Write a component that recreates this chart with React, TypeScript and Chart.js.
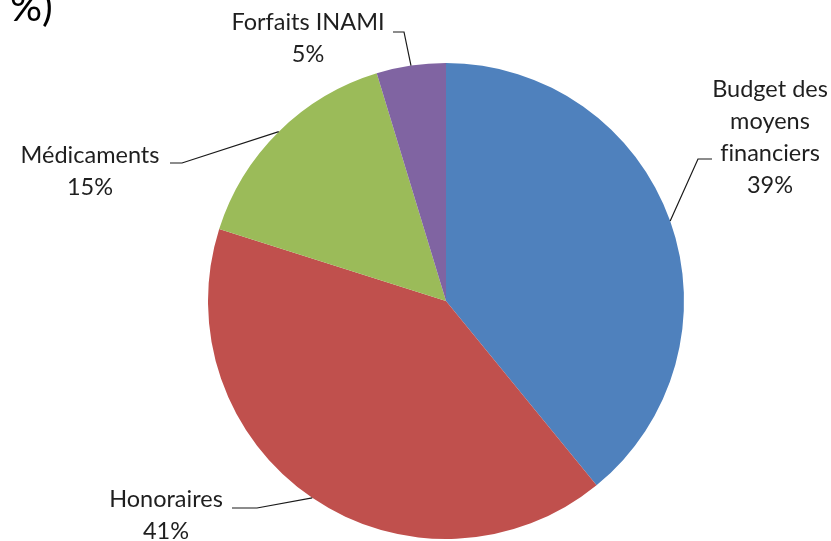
import React, { useEffect, useRef } from "react";
import { Chart, registerables } from "chart.js";

Chart.register(...registerables);

const categories = ["Budget des moyens financiers", "Honoraires", "Médicaments", "Forfaits INAMI"];
const labelLines = [["Budget des", "moyens", "f\u200Cinanciers"], ["Honoraires"], ["Médicaments"], ["Forfaits INAMI"]];
const values = [39.1, 40.8, 15.4, 4.7];
const colors = ["#4F81BD", "#C0504D", "#9BBB59", "#8064A2"];
const titleText = "%)";

// label layout: text center x, first baseline y, elbow point, horizontal end x
const labelLayout = [
  { cx: 770, by: 97, ex: 698, ey: 159, hx: 712 },
  { cx: 166, by: 507, ex: 257, ey: 508, hx: 232 },
  { cx: 90, by: 163, ex: 182, ey: 163, hx: 170 },
  { cx: 308, by: 30, ex: 404, ey: 32, hx: 393 },
];

const FONT = "Lato, 'Open Sans', sans-serif";
const TEXT_COLOR = "#1f1f1f";

const labelPlugin = {
  id: "pieLabels",
  afterDraw(chart: any) {
    const ctx = chart.ctx;
    const meta = chart.getDatasetMeta(0);
    const data = chart.data.datasets[0].data as number[];
    const total = data.reduce((a, b) => a + b, 0);
    ctx.save();
    // title fragment
    ctx.fillStyle = "#000";
    ctx.font = `40px ${FONT}`;
    ctx.textAlign = "left";
    ctx.textBaseline = "alphabetic";
    ctx.fillText(titleText, 10, 21);

    meta.data.forEach((arc: any, i: number) => {
      const L = labelLayout[i];
      const mid = (arc.startAngle + arc.endAngle) / 2;
      const px = arc.x + Math.cos(mid) * arc.outerRadius;
      const py = arc.y + Math.sin(mid) * arc.outerRadius;
      ctx.strokeStyle = "#1a1a1a";
      ctx.lineWidth = 1.2;
      ctx.beginPath();
      ctx.moveTo(px, py);
      ctx.lineTo(L.ex, L.ey);
      ctx.lineTo(L.hx, L.ey);
      ctx.stroke();

      const lines = [...labelLines[i], Math.round((data[i] / total) * 100) + "%"];
      ctx.fillStyle = TEXT_COLOR;
      ctx.font = `23.5px ${FONT}`;
      ctx.textAlign = "center";
      lines.forEach((t, k) => ctx.fillText(t, L.cx, L.by + k * 32));
    });
    ctx.restore();
  },
};

export default function App() {
  const ref = useRef<HTMLCanvasElement>(null);
  useEffect(() => {
    if (!ref.current) return;
    const chart = new Chart(ref.current, {
      type: "pie",
      data: {
        labels: categories,
        datasets: [
          {
            data: values,
            backgroundColor: colors,
            borderWidth: 0,
            hoverOffset: 0,
            offset: 0,
          },
        ],
      },
      options: {
        animation: false,
        responsive: false,
        devicePixelRatio: 1,
        layout: { padding: { left: 208, right: 147, top: 63, bottom: 2 } },
        plugins: {
          legend: { display: false },
          tooltip: { enabled: false },
          title: { display: false },
        },
      },
      plugins: [labelPlugin],
    });
    return () => chart.destroy();
  }, []);
  return (
    <div style={{ position: "absolute", left: 0, top: 0, width: 831, height: 541, background: "#fff" }}>
      <canvas ref={ref} width={831} height={541} />
    </div>
  );
}
